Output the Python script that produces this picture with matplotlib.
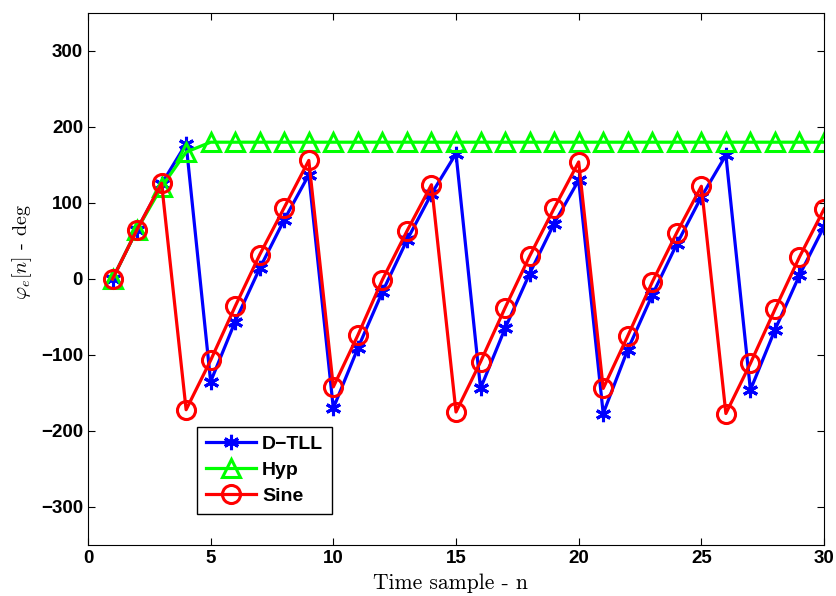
import matplotlib
matplotlib.use("Agg")
import matplotlib.pyplot as plt

n = list(range(1, 31))
dtll = [0, 65, 125, 178, -135, -56, 14, 78, 137, -170,
        -91, -17, 51, 112, 165, -144, -65, 7, 73, 130,
        -177, -93, -21, 46, 108, 163, -146, -67, 5, 69]
hyp = [0, 65, 121, 167, 180, 180, 180, 180, 180, 180,
       180, 180, 180, 180, 180, 180, 180, 180, 180, 180,
       180, 180, 180, 180, 180, 180, 180, 180, 180, 180]
sine = [0, 65, 126, -172, -107, -36, 32, 94, 156, -142,
        -74, -1, 63, 124, -175, -109, -38, 30, 93, 154,
        -144, -75, -4, 61, 122, -177, -111, -40, 29, 92]

plt.rcParams['mathtext.fontset'] = 'cm'

fig = plt.figure(figsize=(8.37, 5.96), dpi=100)
ax = fig.add_axes([0.1051, 0.0856, 0.8794, 0.8926])

lw = 2.3
ax.plot(n, dtll, color='#0000FF', lw=lw, marker=(6, 2, 0), markersize=11,
        markeredgewidth=2.2, label='D\u2212TLL')
ax.plot(n, hyp, color='#00FF00', lw=lw, marker='^', markersize=13.5,
        markerfacecolor='none', markeredgewidth=2.2, label='Hyp')
ax.plot(n, sine, color='#FF0000', lw=lw, marker='o', markersize=13,
        markerfacecolor='none', markeredgewidth=2.2, label='Sine')

ax.set_xlim(0, 30)
ax.set_ylim(-350, 350)
ax.set_xticks(range(0, 31, 5))
ax.set_yticks(range(-300, 301, 100))
ax.tick_params(direction='in', top=True, right=True, length=5, labelsize=13.5)
for lab in ax.get_xticklabels() + ax.get_yticklabels():
    lab.set_fontweight('bold')
    lab.set_family('Liberation Sans')

ax.set_xlabel('Time sample - n', family='cmr10', fontsize=15.5)
ax.xaxis.set_label_coords(0.492, -0.054)
ax.set_ylabel(r'$\varphi_e[n]$ - deg', family='cmr10', fontsize=14.5)
ax.yaxis.set_label_coords(-0.074, 0.55)

leg = ax.legend(loc='upper left', bbox_to_anchor=(0.148, 0.222), frameon=True,
                fancybox=False, edgecolor='black', framealpha=1,
                prop={'family': 'Liberation Sans', 'weight': 'bold', 'size': 14},
                handlelength=2.6, borderpad=0.45, labelspacing=0.42, handletextpad=0.3,
                borderaxespad=0)
leg.get_frame().set_linewidth(1.0)

fig.savefig('out.png', dpi=100)
